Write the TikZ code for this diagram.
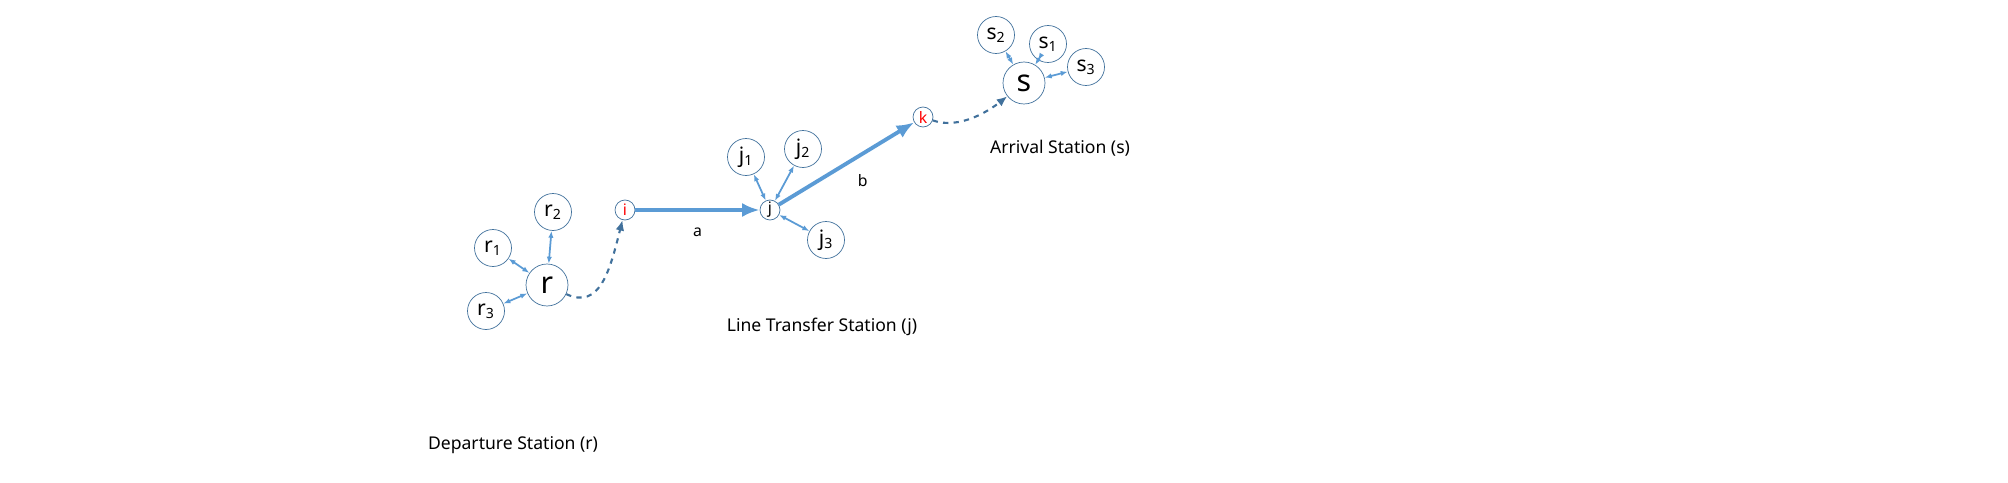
\documentclass[tikz,border=0pt]{standalone}
\usepackage{fontspec}
\setmainfont{Noto Sans}
\usetikzlibrary{arrows.meta}
\definecolor{linkblue}{HTML}{5B9BD5}
\definecolor{ringblue}{HTML}{41719C}
\begin{document}
\begin{tikzpicture}[x=0.02cm, y=-0.02cm,
    big/.style={draw=ringblue, circle, fill=white, minimum size=0.84cm, inner sep=0pt, font=\LARGE},
    sub/.style={draw=ringblue, circle, fill=white, minimum size=0.74cm, inner sep=0pt, font=\large},
    tiny/.style={draw=ringblue, circle, fill=white, minimum size=0.4cm, inner sep=0pt, font=\small},
    link/.style={linkblue, line width=1pt, {Latex[length=4pt,width=3pt]}-{Latex[length=4pt,width=3pt]}},
    main/.style={-{Latex[length=10pt,width=8pt]}, linkblue, line width=2.2pt},
    walk/.style={-{Latex[length=6pt,width=5pt]}, ringblue, dashed, line width=1.2pt}]
    \useasboundingbox (0,0) rectangle (2008,483);
    %--------------------%
    % Departure
    %--------------------%
    \node[big] (r) at (547,285) {r};
    \node[sub] (r1) at (493,248) {r\textsubscript{1}};
    \node[sub] (r2) at (553,212) {r\textsubscript{2}};
    \node[sub] (r3) at (486,311) {r\textsubscript{3}};
    \node (rlabel) at (513,445) {Departure Station (r)};
    %--------------------%
    % Transfer
    %--------------------%
    \node[tiny] (i) at (625,210) {\color{red}i};
    \node[tiny] (j) at (770,210) {j};
    \node[sub] (j1) at (746,157) {j\textsubscript{1}};
    \node[sub] (j2) at (803,149) {j\textsubscript{2}};
    \node[sub] (j3) at (826,240) {j\textsubscript{3}};
    \node (jlabel) at (822,327) {Line Transfer Station (j)};
    %--------------------%
    % Arrival
    %--------------------%
    \node[tiny] (k) at (923,117) {\color{red}k};
    \node[big] (s) at (1024,83) {s};
    \node[sub] (s1) at (1048,44) {s\textsubscript{1}};
    \node[sub] (s2) at (996,35) {s\textsubscript{2}};
    \node[sub] (s3) at (1086,67) {s\textsubscript{3}};
    \node (slabel) at (1060,148) {Arrival Station (s)};
    %--------------------%
    % Connections
    %--------------------%
    \foreach \n in {r1,r2,r3} \draw[link] (\n) -- (r);
    \foreach \n in {s1,s2,s3} \draw[link] (\n) -- (s);
    \draw[link] (j1) -- (j);
    \draw[link] (j2) -- (j);
    \draw[link] (j3) -- (j);
    \draw[main] (i) -- node[below=6pt, black, font=\small] {a} (j);
    \draw[main] (j) -- node[below right=2pt, black, font=\small] {b} (k);
    \draw[walk] (r) .. controls (600,310) and (610,270) .. (i);
    \draw[walk] (k) .. controls (960,130) and (990,110) .. (s);
\end{tikzpicture}
\end{document}
